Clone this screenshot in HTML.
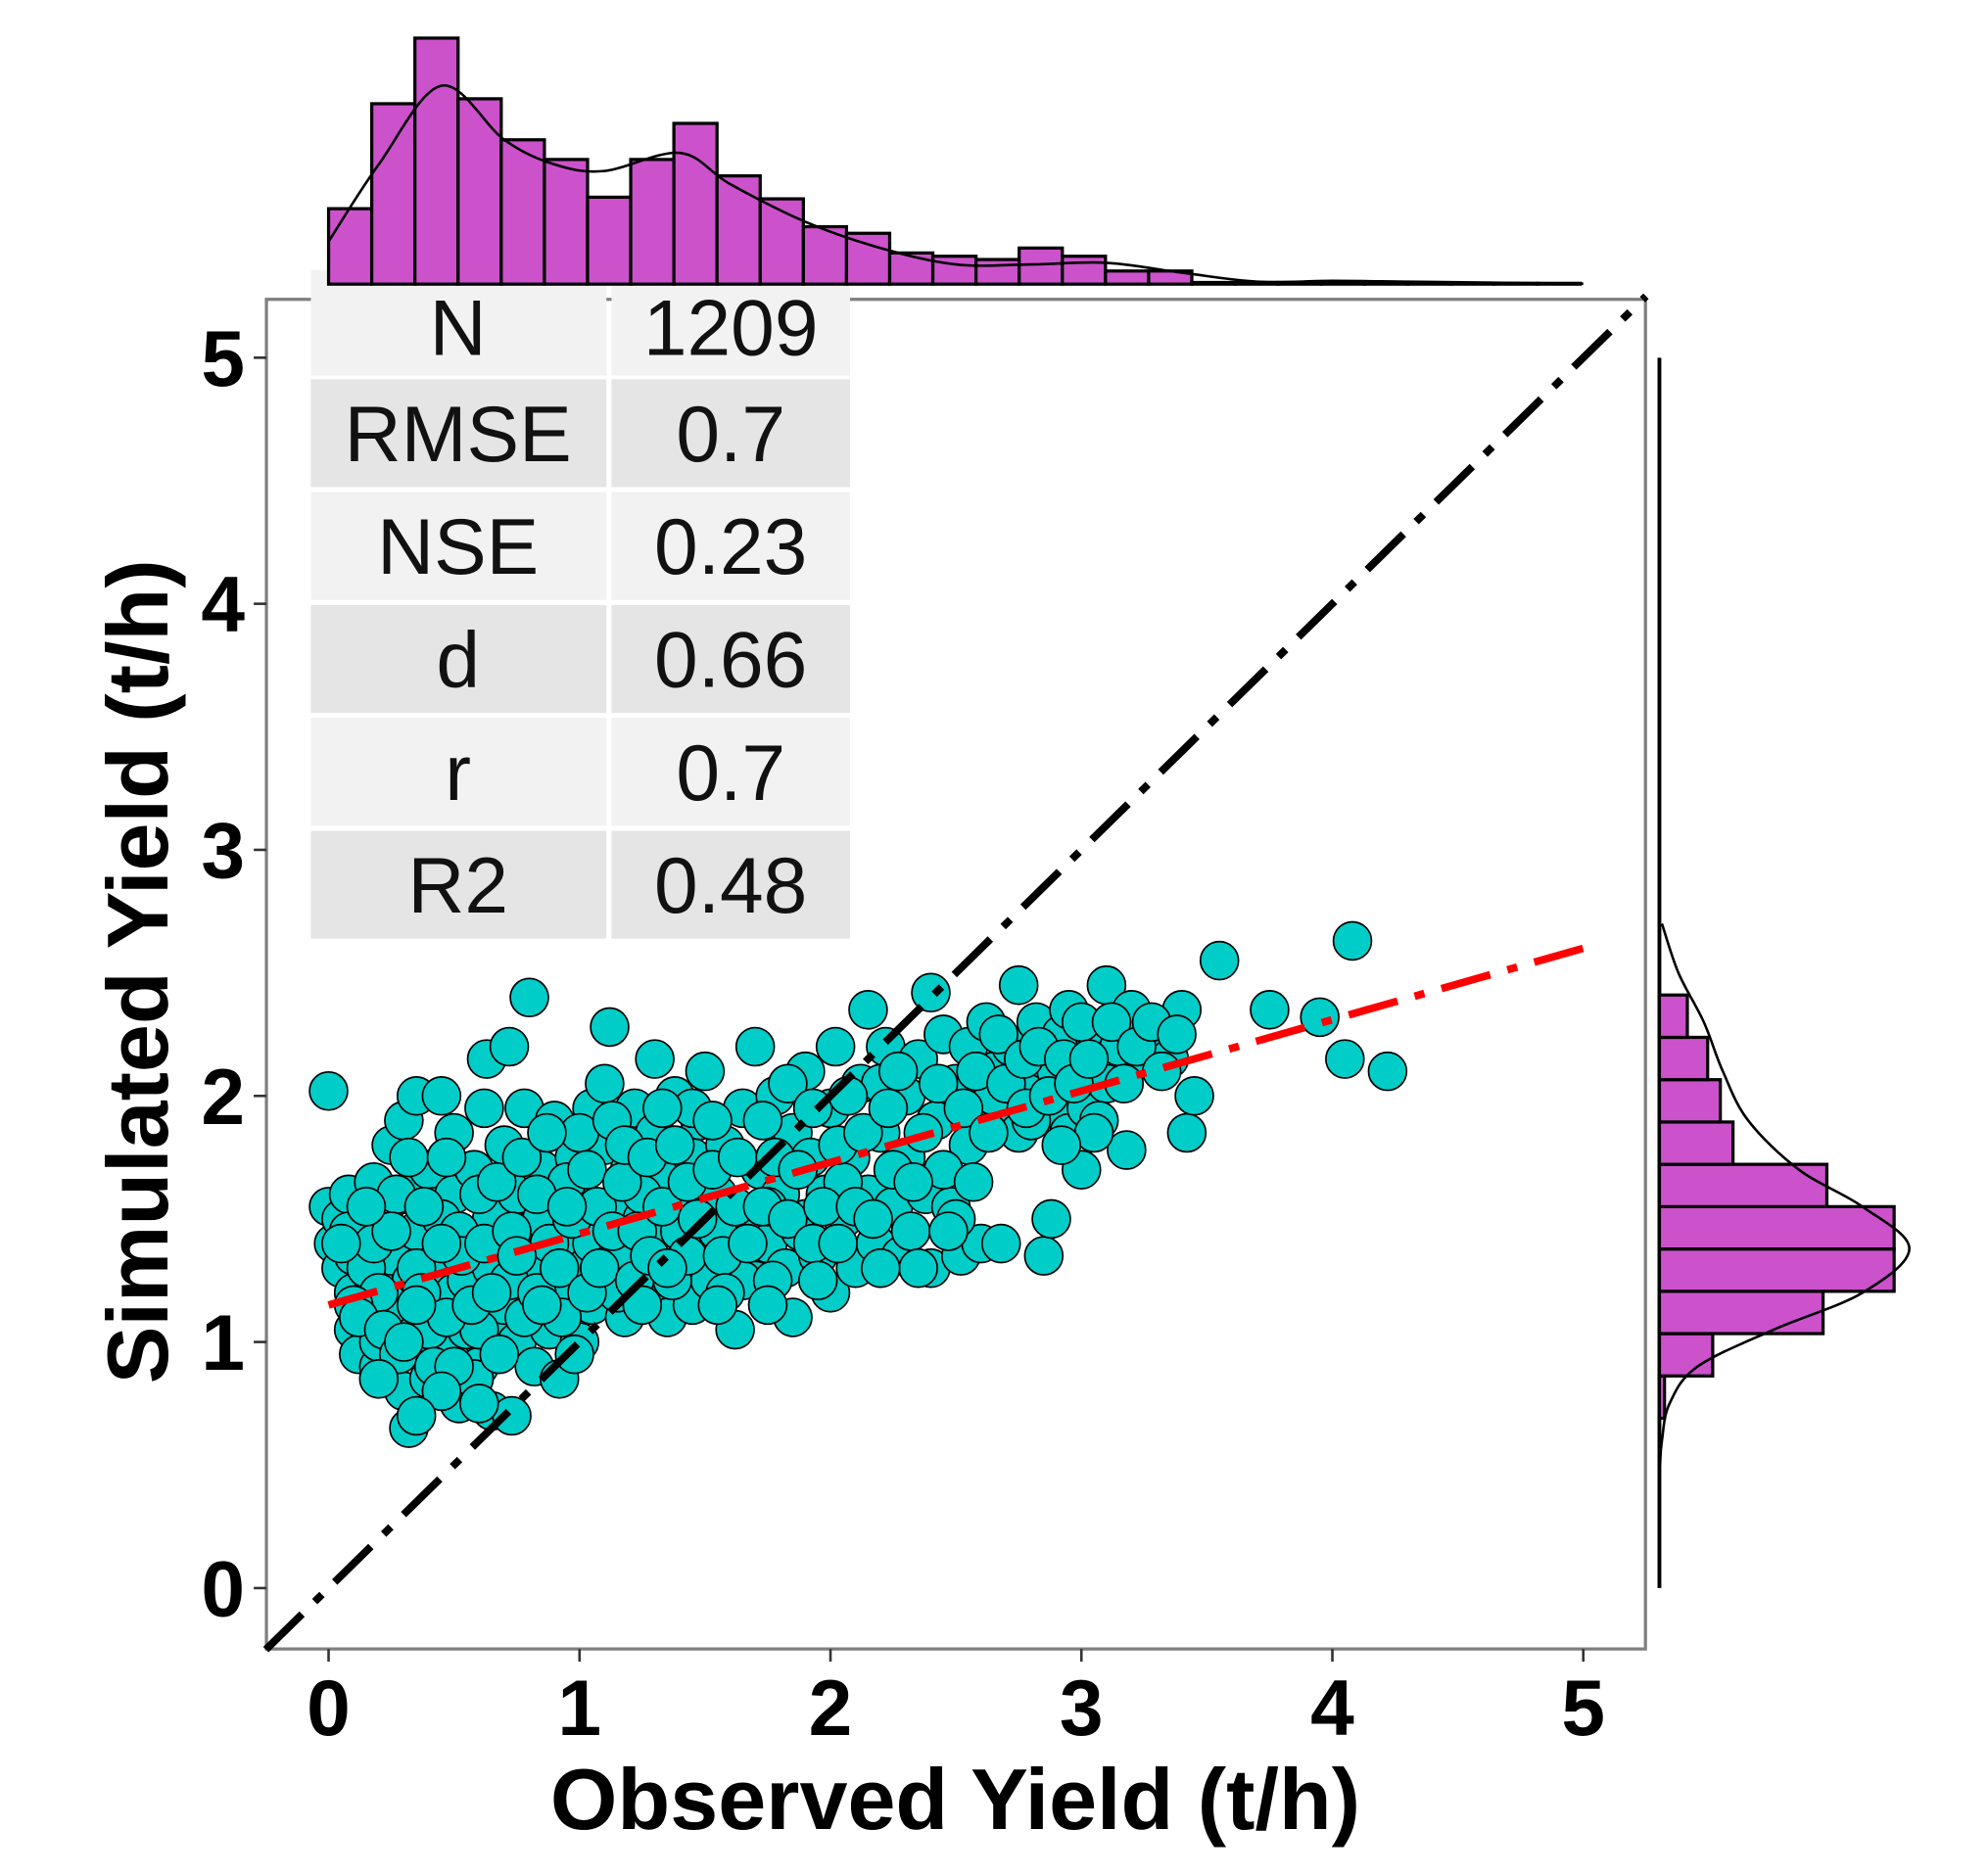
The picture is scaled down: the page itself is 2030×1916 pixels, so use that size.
<!DOCTYPE html>
<html><head><meta charset="utf-8"><style>
html,body{margin:0;padding:0;background:#fff;}
svg{display:block;}
text{font-family:"Liberation Sans",Arial,sans-serif;}
</style></head><body>
<svg id="chart" width="2030" height="1916" viewBox="0 0 1567 1479" preserveAspectRatio="none" xmlns="http://www.w3.org/2000/svg">
<g id="panel"></g>
<g id="table"></g>
<g id="points"></g>
<g id="lines"></g>
<g id="axes"></g>
<g id="tophist"></g>
<g id="righthist"></g>
</svg>
<script>
const xTicks = [0,1,2,3,4,5];
const yTicks = [0,1,2,3,4,5];
const tableLabels = ["N","RMSE","NSE","d","r","R2"];
const tableValues = ["1209","0.7","0.23","0.66","0.7","0.48"];
const topBinStart = 0;
const topBinWidth = 0.172;
const topCounts = [46,110,150,113,88,76,53,76,98,66,52,35,31,19,17,15,22,17,8,8,1,1,1,1,1,0.5,0.5,0.5,0.5];
const topDensX = [0,0.2,0.45,0.7,0.9,1.1,1.4,1.6,1.9,2.2,2.5,2.8,3.1,3.4,3.7,4.0,4.3,4.6,5.0];
const topDensY = [26,73,121,88,73,69,80,61,38,22,12,12,13,7,1.5,2,1.5,1,0.3];
const rightBinStart = 0.69;
const rightBinWidth = 0.172;
const rightCounts = [4,42,129,185,185,132,58,48,38,22];
const rightDensY = [0.5,0.6,0.75,0.9,1.05,1.2,1.38,1.55,1.7,1.9,2.1,2.3,2.5,2.7];
const rightDensX = [0.5,2,8,30,90,160,197,160,110,70,50,35,15,2];
const fitIntercept = 1.15;
const fitSlope = 0.29;
const points = [[0.0,2.02],[0.0,1.55],[0.02,1.4],[0.05,1.3],[0.05,1.5],[0.08,1.6],[0.1,1.2],[0.1,1.35],[0.1,1.05],[0.12,0.95],[0.15,1.45],[0.15,1.15],[0.18,1.25],[0.18,1.65],[0.2,0.9],[0.2,1.0],[0.22,1.5],[0.25,1.35],[0.25,1.8],[0.28,1.1],[0.3,0.8],[0.3,1.6],[0.3,1.9],[0.32,0.65],[0.33,1.25],[0.35,1.45],[0.35,2.0],[0.38,1.0],[0.4,0.85],[0.4,1.15],[0.4,1.7],[0.42,1.55],[0.45,1.3],[0.45,2.0],[0.48,0.95],[0.5,1.2],[0.5,1.6],[0.5,1.85],[0.52,0.75],[0.55,1.4],[0.55,1.05],[0.58,1.7],[0.6,1.25],[0.6,0.9],[0.62,1.95],[0.63,2.15],[0.65,1.5],[0.65,0.72],[0.68,1.1],[0.7,1.35],[0.7,1.8],[0.72,2.2],[0.73,0.7],[0.75,1.0],[0.75,1.6],[0.78,1.2],[0.78,1.95],[0.8,2.4],[0.8,1.45],[0.82,0.9],[0.85,1.7],[0.85,1.3],[0.88,1.05],[0.9,1.55],[0.9,1.9],[0.92,0.85],[0.95,1.2],[0.95,1.4],[0.98,1.75],[1.0,1.0],[1.0,1.6],[1.02,1.3],[1.05,1.95],[1.05,1.15],[1.08,1.45],[1.1,1.8],[1.1,2.05],[1.12,1.25],[1.12,2.28],[1.15,1.55],[1.18,1.1],[1.2,1.7],[1.2,1.35],[1.22,1.95],[1.25,1.5],[1.28,1.2],[1.3,1.85],[1.3,2.15],[1.32,1.4],[1.35,1.1],[1.35,1.65],[1.38,2.0],[1.4,1.3],[1.42,1.55],[1.45,1.75],[1.45,1.15],[1.48,1.9],[1.5,1.4],[1.5,2.1],[1.52,1.25],[1.55,1.6],[1.58,1.8],[1.6,1.35],[1.62,1.05],[1.65,1.95],[1.68,1.5],[1.7,2.2],[1.7,1.25],[1.72,1.7],[1.75,1.4],[1.78,2.0],[1.8,1.6],[1.82,1.3],[1.85,1.85],[1.85,1.1],[1.88,1.45],[1.9,2.1],[1.92,1.75],[1.95,1.35],[1.98,1.6],[2.0,1.2],[2.0,1.95],[2.02,2.2],[2.05,1.5],[2.08,1.75],[2.1,1.3],[2.12,2.05],[2.15,1.6],[2.15,2.35],[2.18,1.4],[2.2,1.85],[2.22,2.2],[2.25,1.55],[2.28,1.35],[2.3,2.0],[2.3,1.75],[2.32,1.45],[2.35,2.15],[2.38,1.6],[2.4,1.3],[2.4,2.42],[2.42,1.9],[2.45,2.25],[2.48,1.55],[2.5,2.05],[2.52,1.35],[2.55,1.8],[2.55,2.2],[2.6,1.4],[2.6,1.95],[2.62,2.3],[2.65,2.1],[2.68,1.4],[2.7,1.9],[2.72,2.2],[2.75,2.45],[2.75,1.85],[2.8,2.05],[2.82,2.3],[2.85,1.35],[2.85,2.15],[2.88,1.5],[2.9,1.95],[2.92,2.25],[2.95,1.85],[2.95,2.35],[3.0,2.1],[3.0,1.7],[3.02,1.95],[3.05,2.25],[3.1,2.45],[3.1,2.05],[3.15,2.2],[3.18,1.78],[3.2,2.35],[3.25,2.15],[3.3,2.25],[3.35,2.15],[3.4,2.35],[3.42,1.85],[3.45,2.0],[3.55,2.55],[3.75,2.35],[3.95,2.32],[4.05,2.15],[4.08,2.63],[4.22,2.1],[0.15,1.3],[0.25,1.15],[0.35,1.3],[0.45,1.5],[0.55,1.25],[0.65,1.3],[0.85,1.5],[0.95,1.65],[1.05,1.4],[1.15,1.35],[1.25,1.6],[1.4,1.45],[1.55,1.45],[1.75,1.55],[1.9,1.5],[2.05,1.65],[2.25,1.7],[2.45,1.7],[2.65,2.0],[2.8,1.9],[2.5,1.5],[2.35,1.3],[1.65,1.25],[1.15,1.2],[0.7,1.15],[0.6,1.05],[0.4,1.05],[0.2,1.2],[0.1,1.15],[1.45,1.95],[1.0,1.85],[0.6,1.6],[2.2,2.05],[2.9,2.1],[3.0,2.3],
[0.08,1.45],[0.12,1.1],[0.18,1.4],[0.22,1.05],[0.27,1.6],[0.28,0.95],[0.32,1.75],[0.37,1.2],[0.38,1.55],[0.42,0.9],[0.47,1.1],[0.47,1.75],[0.52,1.45],[0.53,1.35],[0.57,1.15],[0.58,0.85],[0.62,1.4],[0.67,1.65],[0.68,0.95],[0.72,1.25],[0.73,1.45],[0.77,1.75],[0.78,1.1],[0.83,1.6],[0.83,1.2],[0.87,1.85],[0.88,1.4],[0.92,1.3],[0.93,1.1],[0.97,1.5],[0.98,0.95],[1.03,1.7],[1.03,1.2],[1.07,1.55],[1.08,1.3],[1.13,1.9],[1.13,1.45],[1.17,1.65],[1.18,1.8],[1.22,1.25],[1.23,1.45],[1.27,1.75],[1.28,1.35],[1.33,1.55],[1.33,1.95],[1.37,1.25],[1.38,1.8],[1.43,1.35],[1.43,1.65],[1.47,1.5],[1.53,1.7],[1.53,1.9],[1.57,1.35],[1.58,1.2],[1.62,1.55],[1.63,1.75],[1.67,1.4],[1.73,1.9],[1.73,1.55],[1.77,1.25],[1.78,1.75],[1.83,1.5],[1.83,2.05],[1.87,1.7],[1.93,1.4],[1.93,1.95],[1.97,1.55],[2.03,1.8],[2.03,1.4],[2.07,2.0],[2.1,1.55],[2.13,1.85],[2.17,1.5],[2.2,1.3],[2.23,1.95],[2.27,2.1],[2.33,1.65],[2.37,1.85],[2.43,2.05],[2.47,1.45],[2.53,1.95],[2.57,1.65],[2.58,2.1],[2.63,1.85],[2.67,2.25],[2.7,2.05],[2.77,2.15],[2.78,1.95],[2.83,2.2],[2.87,2.0],[2.93,2.15],[2.97,2.05],[3.03,2.15],[3.07,1.9],[3.12,2.3],[3.17,2.05],[3.22,2.2],[3.28,2.3],[3.32,2.1],[3.38,2.25],[3.05,1.85],[2.92,1.8],[1.95,1.25],[1.75,1.15],[1.55,1.15],[1.35,1.3],[1.25,1.15],[0.95,1.55],[0.85,1.15],[0.75,1.35],[0.65,1.2],[0.45,1.4],[0.35,1.15],[0.25,1.45],[0.15,1.55],[0.05,1.4],[0.2,0.85],[0.3,1.0],[0.5,0.9],[0.45,0.8],[0.6,0.75],[0.35,0.7]];

const NS="http://www.w3.org/2000/svg";
const X0=259, XS=197.8, Y0=1252, YS=194;
const px=v=>X0+v*XS, py=v=>Y0-v*YS;
const topBase=224, topScale=1.293;
const rightBase=1308, rightScale=1.0;
function mk(tag,attrs,parent){const e=document.createElementNS(NS,tag);for(const k in attrs)e.setAttribute(k,attrs[k]);parent.appendChild(e);return e;}
const G=id=>document.getElementById(id);

let r=mk('rect',{x:210,y:236,width:1087,height:1064,fill:'#fff',stroke:'#7f7f7f','stroke-width':2.5},G('panel'));



tableLabels.forEach((lab,i)=>{
  const y0=i===0?213:299+(i-1)*89, h=i===0?83:85;
  const fill=i%2===0?'#f2f2f2':'#e5e5e5';
  let c1=mk('rect',{x:245,y:y0,width:233,height:h,fill:fill},G('table'));
  
  
  let c2=mk('rect',{x:482,y:y0,width:188,height:h,fill:fill},G('table'));
  
  
  const cy=i===0?280:y0+h/2+22;
  let t1=mk('text',{x:361,y:cy,'text-anchor':'middle','font-size':62,fill:'#111'},G('table'));t1.textContent=lab;
  
  
  let t2=mk('text',{x:576,y:cy,'text-anchor':'middle','font-size':62,fill:'#111'},G('table'));t2.textContent=tableValues[i];
  
  
});

points.forEach(p=>{
  let c=mk('circle',{cx:px(p[0]),cy:py(p[1]),r:15,fill:'#00cdc8',stroke:'#000','stroke-width':1.3},G('points'));
  
  
});

let l1=mk('line',{x1:px(-0.25),y1:py(-0.25),x2:px(5.25),y2:py(5.25),stroke:'#000','stroke-width':6,'stroke-dasharray':'40 14 8 14'},G('lines'));


let l2=mk('line',{x1:px(0),y1:py(fitIntercept),x2:px(5),y2:py(fitIntercept+fitSlope*5),stroke:'#f00','stroke-width':6,'stroke-dasharray':'40 14 8 14'},G('lines'));



xTicks.forEach(v=>{
  let tk=mk('line',{x1:px(v),y1:1300,x2:px(v),y2:1310,stroke:'#333','stroke-width':2},G('axes'));
  
  
  let t=mk('text',{x:px(v),y:1368,'text-anchor':'middle','font-size':62,'font-weight':'bold',fill:'#000'},G('axes'));t.textContent=v;
  
  
});
yTicks.forEach(v=>{
  let tk=mk('line',{x1:200,y1:py(v),x2:210,y2:py(v),stroke:'#333','stroke-width':2},G('axes'));
  
  
  let t=mk('text',{x:193,y:py(v)+22,'text-anchor':'end','font-size':62,'font-weight':'bold',fill:'#000'},G('axes'));t.textContent=v;
  
  
});
let xt=mk('text',{x:753,y:1442,'text-anchor':'middle','font-size':68,'font-weight':'bold',fill:'#000'},G('axes'));xt.textContent='Observed Yield (t/h)';


let yt=mk('text',{x:0,y:0,'text-anchor':'middle','font-size':68,'font-weight':'bold',fill:'#000',transform:'translate(132,766) rotate(-90)'},G('axes'));yt.textContent='Simulated Yield (t/h)';



topCounts.forEach((c,i)=>{
  const x=px(topBinStart+i*topBinWidth), w=topBinWidth*XS, h=c*topScale;
  let b=mk('rect',{x:x,y:topBase-h,width:w,height:h,fill:'#cc52cc',stroke:'#000','stroke-width':2.5},G('tophist'));
  
  
});
function smooth(pts){let d='M'+pts[0][0]+','+pts[0][1];for(let i=0;i<pts.length-1;i++){const p0=pts[Math.max(0,i-1)],p1=pts[i],p2=pts[i+1],p3=pts[Math.min(pts.length-1,i+2)];d+=' C'+(p1[0]+(p2[0]-p0[0])/6)+','+(p1[1]+(p2[1]-p0[1])/6)+' '+(p2[0]-(p3[0]-p1[0])/6)+','+(p2[1]-(p3[1]-p1[1])/6)+' '+p2[0]+','+p2[1];}return d;}
let td=mk('path',{d:smooth(topDensX.map((x,i)=>[px(x),topBase-topDensY[i]*topScale])),fill:'none',stroke:'#000','stroke-width':2},G('tophist'));



let ax=mk('line',{x1:rightBase,y1:py(5),x2:rightBase,y2:py(0),stroke:'#000','stroke-width':3},G('righthist'));


rightCounts.forEach((c,i)=>{
  const y=py(rightBinStart+(i+1)*rightBinWidth), h=rightBinWidth*YS, w=c*rightScale;
  let b=mk('rect',{x:rightBase,y:y,width:w,height:h,fill:'#cc52cc',stroke:'#000','stroke-width':2.5},G('righthist'));
  
  
});
let rd=mk('path',{d:smooth(rightDensY.map((y,i)=>[rightBase+rightDensX[i]*rightScale,py(y)])),fill:'none',stroke:'#000','stroke-width':2},G('righthist'));


</script>
</body></html>
